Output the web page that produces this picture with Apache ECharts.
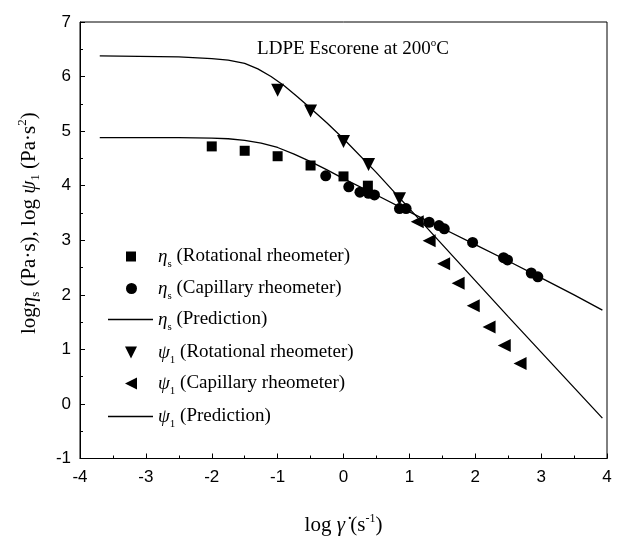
<!DOCTYPE html>
<html>
<head>
<meta charset="utf-8">
<script src="https://cdn.jsdelivr.net/npm/echarts@6/dist/echarts.min.js"></script>
<style>
  html, body { margin: 0; padding: 0; background: #fff; }
  #main { width: 628px; height: 541px; }
</style>
</head>
<body>
<div id="main"></div>
<script>
// eta_s, rotational rheometer
const etaRotX = [-2, -1.5, -1, -0.5, 0, 0.37];
const etaRotY = [4.72, 4.64, 4.54, 4.37, 4.17, 4.0];
// eta_s, capillary rheometer
const etaCapX = [-0.27, 0.08, 0.25, 0.38, 0.47, 0.85, 0.95, 1.3, 1.45, 1.53, 1.96, 2.43, 2.49, 2.85, 2.95];
const etaCapY = [4.18, 3.98, 3.88, 3.86, 3.83, 3.58, 3.58, 3.33, 3.27, 3.21, 2.96, 2.68, 2.64, 2.40, 2.33];
// eta_s prediction
const etaPredX = [-3.7, -2.5, -2, -1.75, -1.5, -1.25, -1, -0.75, -0.5, -0.25, 0, 0.5, 1, 1.5, 2, 2.5, 3, 3.5, 3.93];
const etaPredY = [4.88, 4.88, 4.87, 4.86, 4.83, 4.78, 4.70, 4.58, 4.44, 4.29, 4.13, 3.83, 3.52, 3.22, 2.92, 2.62, 2.31, 2.00, 1.72];
// psi_1, rotational rheometer
const psiRotX = [-1, -0.5, 0, 0.38, 0.85];
const psiRotY = [5.75, 5.37, 4.81, 4.39, 3.76];
// psi_1, capillary rheometer
const psiCapX = [1.12, 1.3, 1.52, 1.74, 1.97, 2.21, 2.44, 2.68];
const psiCapY = [3.34, 2.99, 2.57, 2.21, 1.80, 1.41, 1.07, 0.74];
// psi_1 prediction
const psiPredX = [-3.7, -2.5, -2, -1.75, -1.5, -1.3, -1.1, -0.9, -0.7, -0.5, -0.25, 0, 0.5, 1, 1.5, 2, 2.5, 3, 3.5, 3.93];
const psiPredY = [6.38, 6.36, 6.33, 6.30, 6.24, 6.14, 6.00, 5.83, 5.63, 5.42, 5.15, 4.86, 4.24, 3.58, 2.92, 2.26, 1.60, 0.95, 0.30, -0.26];

const xTicks = [-4, -3, -2, -1, 0, 1, 2, 3, 4];
const yTicks = [-1, 0, 1, 2, 3, 4, 5, 6, 7];

const serif = 'Liberation Serif';
const sans = 'Liberation Sans';

function pairs(xs, ys) {
    return xs.map((x, i) => [x, ys[i]]);
}

function richSet(size, lh, padLeft) {
    return {
        t: {fontFamily: serif, fontSize: size, color: '#000', lineHeight: lh},
        g: {fontFamily: serif, fontSize: size, fontStyle: 'italic', color: '#000', lineHeight: lh},
        gp: {fontFamily: serif, fontSize: size, fontStyle: 'italic', color: '#000', lineHeight: lh,
            padding: [0, 0, 0, padLeft || 0]},
        sub: {fontFamily: serif, fontSize: Math.round(size * 0.6), color: '#000', verticalAlign: 'bottom', lineHeight: 12},
        sup: {fontFamily: serif, fontSize: Math.round(size * 0.6), color: '#000', verticalAlign: 'top', lineHeight: 12}
    };
}

// legend rows: name, label, row centre y, icon, icon size
const legendRows = [
    ['etaRot', '{gp|η}{sub|s}{t| (Rotational rheometer)}', 260, 'rect', 10],
    ['etaCap', '{gp|η}{sub|s}{t| (Capillary rheometer)}', 292, 'circle', 11],
    ['etaPred', '{gp|η}{sub|s}{t| (Prediction)}', 323, 'line', 45],
    ['psiRot', '{gp|ψ}{sub|1}{t| (Rotational rheometer)}', 356, 'path://M0,0L10,0L5,10Z', 12],
    ['psiCap', '{gp|ψ}{sub|1}{t| (Capillary rheometer)}', 387, 'path://M10,0L10,10L0,5Z', 12],
    ['psiPred', '{gp|ψ}{sub|1}{t| (Prediction)}', 420, 'line', 45]
];

const legends = legendRows.map(([name, label, cy, icon, w]) => {
    const isLine = icon === 'line';
    const left = isLine ? 108 : Math.round(131 - w / 2);
    const pad = 158 - (left + w + 5);
    return {
        left: left, top: cy - 13, padding: 0,
        itemWidth: w, itemHeight: isLine ? 1.3 : w,
        selectedMode: false,
        data: [{name: name, icon: isLine ? 'rect' : icon}],
        itemStyle: {color: '#000', opacity: 1},
        formatter: () => label,
        textStyle: {rich: richSet(19, 26, pad)}
    };
});

let myChart = echarts.init(document.getElementById('main'));
let option = {
    animation: false,
    backgroundColor: '#fff',
    grid: {
        left: 80, right: 21, top: 22, bottom: 79,
        show: true, borderColor: '#000', borderWidth: 1
    },
    title: {
        text: '{a|LDPE Escorene at 200}{sup|o}{a|C}',
        left: 348, top: 33, textAlign: 'center',
        textStyle: {
            rich: {
                a: {fontFamily: serif, fontSize: 19, fontWeight: 'normal', color: '#000', lineHeight: 23},
                sup: {fontFamily: serif, fontSize: 11, fontWeight: 'normal', color: '#000', verticalAlign: 'top', lineHeight: 11}
            }
        }
    },
    legend: legends,
    xAxis: {
        type: 'value', min: -4, max: 4, interval: 1,
        name: '{t|log }{g|γ̇}{t| (s}{sup|-1}{t|)}',
        nameLocation: 'middle', nameGap: 54,
        nameTextStyle: {
            rich: {
                t: {fontFamily: serif, fontSize: 21, color: '#000', lineHeight: 26},
                g: {fontFamily: serif, fontSize: 21, fontStyle: 'italic', color: '#000', lineHeight: 26},
                sup: {fontFamily: serif, fontSize: 12, color: '#000', verticalAlign: 'top', lineHeight: 13}
            }
        },
        axisLine: {onZero: false, lineStyle: {color: '#000', width: 1}},
        axisTick: {inside: true, length: 5, lineStyle: {color: '#000'}},
        minorTick: {show: true, splitNumber: 2, length: 3, lineStyle: {color: '#000'}},
        splitLine: {show: false},
        axisLabel: {
            margin: 10, fontFamily: sans, fontSize: 17, color: '#000',
            formatter: v => xTicks.includes(v) ? String(v) : ''
        }
    },
    yAxis: {
        type: 'value', min: -1, max: 7, interval: 1,
        name: '{t|log}{g|η}{sub|s}{t| (Pa·s), log }{g|ψ}{sub|1}{t| (Pa·s}{sup|2}{t|)}',
        nameLocation: 'middle', nameGap: 38,
        nameTextStyle: {rich: richSet(21, 26, 0), padding: [0, 0, 0, 34]},
        axisLine: {onZero: false, lineStyle: {color: '#000', width: 1}},
        axisTick: {inside: true, length: 5, lineStyle: {color: '#000'}},
        minorTick: {show: true, splitNumber: 2, length: 3, lineStyle: {color: '#000'}},
        splitLine: {show: false},
        axisLabel: {
            margin: 9, fontFamily: sans, fontSize: 17, color: '#000',
            formatter: v => yTicks.includes(v) ? String(v) : ''
        }
    },
    series: [
        {
            name: 'etaRot', type: 'scatter', symbol: 'rect', symbolSize: 10,
            itemStyle: {color: '#000', opacity: 1}, data: pairs(etaRotX, etaRotY)
        },
        {
            name: 'etaCap', type: 'scatter', symbol: 'circle', symbolSize: 11,
            itemStyle: {color: '#000', opacity: 1}, data: pairs(etaCapX, etaCapY)
        },
        {
            name: 'etaPred', type: 'line', symbol: 'none', smooth: false,
            lineStyle: {color: '#000', width: 1.3}, itemStyle: {color: '#000'},
            data: pairs(etaPredX, etaPredY)
        },
        {
            name: 'psiRot', type: 'scatter', symbol: 'triangle', symbolRotate: 180, symbolSize: 13,
            itemStyle: {color: '#000', opacity: 1}, data: pairs(psiRotX, psiRotY)
        },
        {
            name: 'psiCap', type: 'scatter', symbol: 'triangle', symbolRotate: 90, symbolSize: 13,
            itemStyle: {color: '#000', opacity: 1}, data: pairs(psiCapX, psiCapY)
        },
        {
            name: 'psiPred', type: 'line', symbol: 'none', smooth: false,
            lineStyle: {color: '#000', width: 1.3}, itemStyle: {color: '#000'},
            data: pairs(psiPredX, psiPredY)
        }
    ]
};
myChart.setOption(option);
</script>
</body>
</html>
